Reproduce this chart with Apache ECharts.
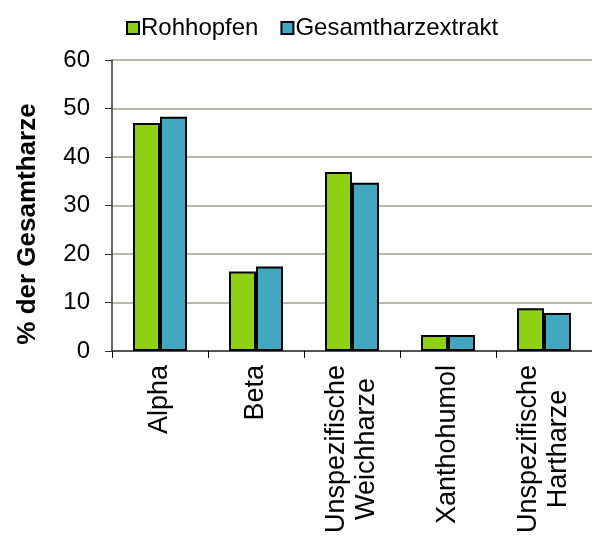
<!DOCTYPE html>
<html>
<head>
<meta charset="utf-8">
<script src="https://cdn.jsdelivr.net/npm/echarts@6/dist/echarts.min.js"></script>
<style>html,body{margin:0;padding:0;background:#fff}#c{width:592px;height:536px}</style>
</head>
<body>
<div id="c"></div>
<script>
var categories = ['Alpha', 'Beta', 'Unspezifische\nWeichharze', 'Xanthohumol', 'Unspezifische\nHartharze'];
var rohhopfen = [47.0, 16.4, 36.9, 3.3, 8.8];
var gesamtharzextrakt = [48.3, 17.4, 34.7, 3.3, 7.8];
var seriesNames = ['Rohhopfen', 'Gesamtharzextrakt'];
var yTitle = '% der Gesamtharze';

var FONT = '"Liberation Sans", Arial, sans-serif';
var chart = echarts.init(document.getElementById('c'), null, {renderer: 'canvas'});
chart.setOption({
  animation: false,
  textStyle: {fontFamily: FONT},
  legend: {
    left: 121, top: 11,
    itemWidth: 12, itemHeight: 12, itemGap: 22,
    icon: 'rect',
    itemStyle: {borderColor: '#000', borderWidth: 2},
    textStyle: {fontSize: 24, color: '#000', fontFamily: FONT, padding: [0, 0, 0, -3]},
    data: seriesNames
  },
  graphic: [{
    type: 'text',
    x: 28, y: 224,
    rotation: Math.PI / 2,
    style: {
      text: yTitle,
      font: 'bold 26px "Liberation Sans", Arial, sans-serif',
      fill: '#000',
      align: 'center',
      verticalAlign: 'middle'
    }
  }],
  grid: {left: 112, right: 0, top: 60, bottom: 180},
  xAxis: {
    type: 'category',
    data: categories,
    axisLine: {lineStyle: {color: '#555', width: 2}},
    axisTick: {show: true, length: 7, lineStyle: {color: '#000', width: 1}},
    axisLabel: {
      rotate: 90,
      margin: 14,
      interval: 0,
      color: '#000',
      fontSize: 27,
      fontFamily: FONT,
      lineHeight: 30,
      formatter: function (v) {
        var parts = v.split('\n');
        if (parts.length === 1) return '{a|' + parts[0] + '}';
        return '{a|' + parts[0] + '}\n{c|' + parts[1] + '}';
      },
      rich: {
        a: {fontSize: 27, fontFamily: FONT, color: '#000', lineHeight: 30},
        c: {fontSize: 27, fontFamily: FONT, color: '#000', lineHeight: 30, align: 'center'}
      }
    }
  },
  yAxis: {
    type: 'value',
    min: 0, max: 60, interval: 10,
    axisLine: {show: true, lineStyle: {color: '#333', width: 1.5}},
    axisTick: {show: true, length: 7, lineStyle: {color: '#333', width: 1}},
    axisLabel: {color: '#000', fontSize: 24, fontFamily: FONT, margin: 22},
    splitLine: {show: true, lineStyle: {color: '#a2a28a', width: 1.5}}
  },
  series: [
    {
      name: seriesNames[0], type: 'bar', data: rohhopfen,
      barWidth: 27, barGap: '0%',
      itemStyle: {color: '#8fd111', borderColor: '#000', borderWidth: 2}
    },
    {
      name: seriesNames[1], type: 'bar', data: gesamtharzextrakt,
      barWidth: 27, barGap: '0%',
      itemStyle: {color: '#3fa8bf', borderColor: '#000', borderWidth: 2}
    }
  ]
});
</script>
</body>
</html>
